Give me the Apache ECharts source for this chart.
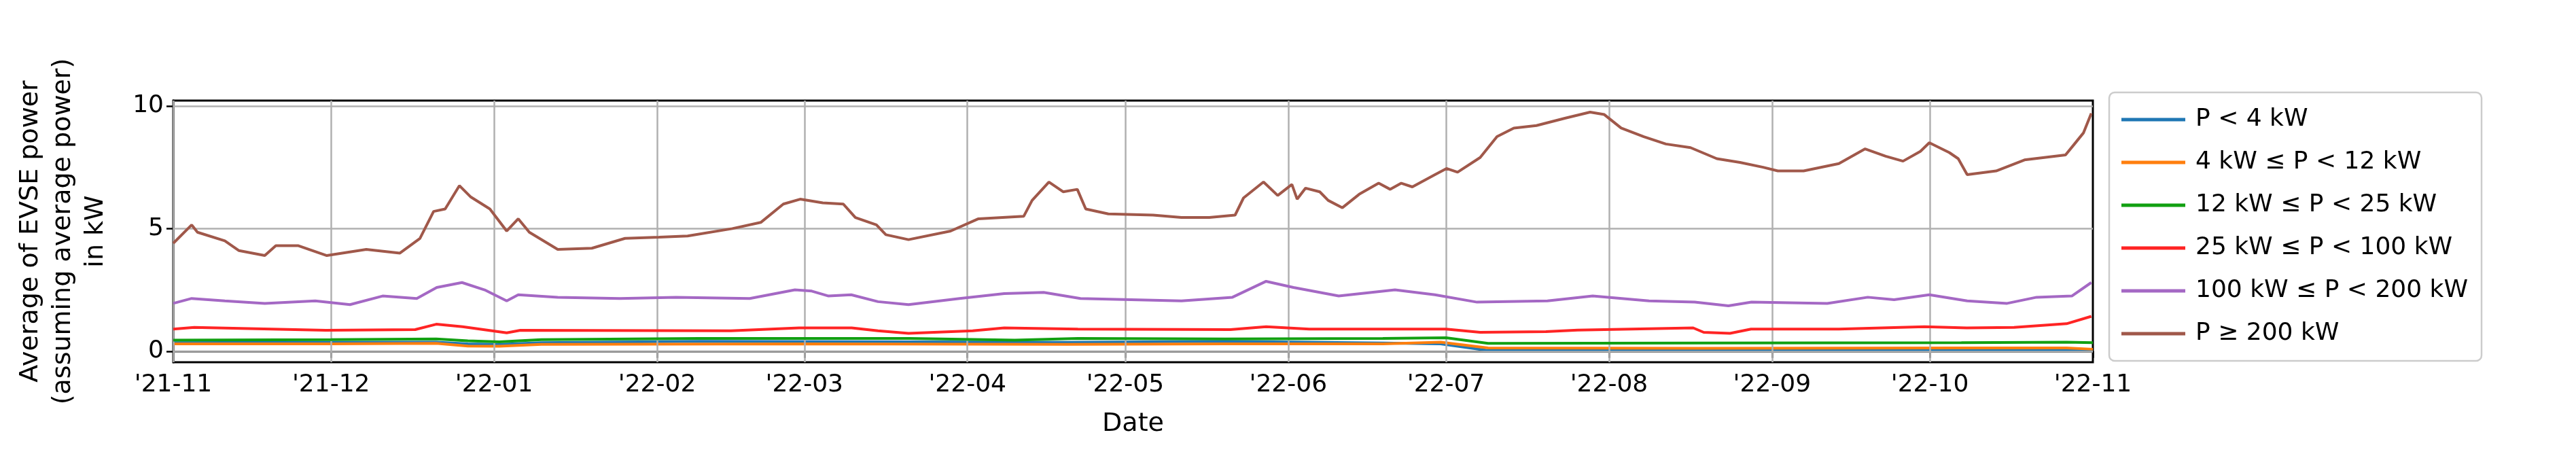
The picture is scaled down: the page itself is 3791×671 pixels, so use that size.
<!DOCTYPE html>
<html><head><meta charset="utf-8">
<script src="https://cdn.jsdelivr.net/npm/echarts@6/dist/echarts.min.js"></script>
<style>html,body{margin:0;background:#fff}#c{width:3791px;height:671px}</style>
</head><body><div id="c"></div>
<script>
const FONT = '"DejaVu Sans", sans-serif';
const START = Date.UTC(2021, 10, 1);
const DAY = 86400000;

const seriesNames = ['P < 4 kW', '4 kW ≤ P < 12 kW', '12 kW ≤ P < 25 kW', '25 kW ≤ P < 100 kW', '100 kW ≤ P < 200 kW', 'P ≥ 200 kW'];
const colors = ['#1f77b4', '#ff7f0e', '#12a012', '#ff2424', '#a468c4', '#a0584a'];

// day offsets from 2021-11-01 and values (kW)
const daysBlue = [0, 20, 50, 56, 62, 70, 100, 140, 170, 200, 230, 241, 250, 280, 320, 365];
const valsBlue = [0.35, 0.36, 0.37, 0.3, 0.28, 0.35, 0.4, 0.38, 0.36, 0.4, 0.33, 0.3, 0.03, 0.03, 0.04, 0.03];
const daysOrange = [0, 30, 50, 56, 62, 70, 120, 170, 200, 230, 241, 250, 290, 340, 360, 365];
const valsOrange = [0.3, 0.3, 0.32, 0.21, 0.2, 0.28, 0.3, 0.28, 0.3, 0.3, 0.37, 0.13, 0.12, 0.13, 0.13, 0.08];
const daysGreen = [0, 30, 50, 56, 62, 70, 100, 140, 160, 172, 200, 230, 242, 250, 290, 340, 360, 365];
const valsGreen = [0.45, 0.47, 0.5, 0.42, 0.38, 0.47, 0.52, 0.52, 0.45, 0.52, 0.5, 0.52, 0.55, 0.32, 0.33, 0.35, 0.37, 0.35];
const daysRed = [0, 4, 29, 46, 50, 55, 63.4, 66, 106, 119, 129, 134, 139.8, 152, 158, 172, 201, 207.8, 216, 242, 248.5, 261, 267, 289, 291, 296, 300, 316.7, 333, 341, 350, 360, 364.7];
const valsRed = [0.9, 0.97, 0.85, 0.88, 1.1, 1.0, 0.75, 0.85, 0.83, 0.95, 0.95, 0.83, 0.73, 0.83, 0.95, 0.9, 0.88, 1.0, 0.9, 0.9, 0.77, 0.8, 0.86, 0.95, 0.77, 0.73, 0.9, 0.9, 1.0, 0.95, 0.97, 1.12, 1.42];
const daysPurple = [0, 3.5, 9.8, 17.4, 27, 33.6, 39.8, 46.3, 50.1, 54.9, 59.2, 63.4, 65.6, 73.1, 84.9, 95.6, 109.6, 118.2, 121.4, 124.6, 128.9, 134, 139.8, 149.5, 158, 165.5, 172.5, 191.7, 201.4, 207.8, 213, 221.6, 232.3, 239.9, 247.9, 261.3, 269.9, 280.6, 289.3, 295.7, 300.1, 314.5, 322.2, 327.2, 333.9, 341.1, 348.7, 354.3, 361, 364.7];
const valsPurple = [1.95, 2.15, 2.05, 1.95, 2.05, 1.9, 2.25, 2.15, 2.6, 2.8, 2.5, 2.05, 2.3, 2.2, 2.15, 2.2, 2.15, 2.5, 2.45, 2.25, 2.3, 2.02, 1.9, 2.15, 2.35, 2.4, 2.15, 2.05, 2.2, 2.85, 2.6, 2.25, 2.5, 2.3, 2.0, 2.05, 2.25, 2.05, 2.0, 1.85, 2.0, 1.95, 2.2, 2.1, 2.3, 2.05, 1.95, 2.2, 2.25, 2.8];
const daysBrown = [0, 3.5, 4.6, 9.8, 12.5, 17.4, 19.5, 23.8, 29.2, 36.7, 43.1, 46.9, 49.5, 51.7, 54.4, 56.5, 60.2, 63.4, 65.6, 67.7, 73.1, 79.6, 85.9, 92.4, 97.8, 106.3, 111.7, 116, 119.2, 123.5, 127.4, 129.7, 133.7, 135.5, 139.8, 147.8, 153.1, 161.7, 163.3, 166.5, 169.2, 171.9, 173.5, 177.8, 186.3, 191.7, 197, 201.9, 203.5, 207.3, 210, 212.7, 213.7, 215.3, 218, 219.6, 222.3, 225.5, 229.2, 231.4, 233.5, 235.6, 239.9, 242.1, 244.2, 248.5, 251.7, 254.9, 259.2, 264.6, 269.4, 272.1, 275.3, 279.6, 283.8, 288.5, 293.5, 297.9, 302.3, 305.1, 310, 316.7, 321.7, 325.6, 328.9, 332.2, 333.9, 337.7, 339.4, 341.1, 346.6, 352, 359.8, 361.5, 363.2, 364.7];
const valsBrown = [4.4, 5.15, 4.85, 4.5, 4.1, 3.9, 4.3, 4.3, 3.9, 4.15, 4.0, 4.6, 5.7, 5.8, 6.75, 6.3, 5.8, 4.9, 5.4, 4.85, 4.15, 4.2, 4.6, 4.65, 4.7, 5.0, 5.25, 6.0, 6.2, 6.05, 6.0, 5.45, 5.15, 4.75, 4.55, 4.9, 5.4, 5.5, 6.15, 6.9, 6.5, 6.6, 5.8, 5.6, 5.55, 5.45, 5.45, 5.55, 6.25, 6.9, 6.35, 6.8, 6.2, 6.65, 6.5, 6.15, 5.85, 6.4, 6.85, 6.6, 6.85, 6.7, 7.2, 7.45, 7.3, 7.9, 8.75, 9.1, 9.2, 9.5, 9.75, 9.65, 9.1, 8.75, 8.45, 8.3, 7.85, 7.7, 7.5, 7.35, 7.35, 7.65, 8.25, 7.95, 7.75, 8.15, 8.5, 8.1, 7.85, 7.2, 7.35, 7.8, 8.0, 8.45, 8.9, 9.7];

const yTicks = [0, 5, 10];
const monthTicks = [];
for (let m = 0; m < 12; m++) monthTicks.push(Date.UTC(2021, 10 + m, 1));

const pairs = (d, v) => d.map((x, i) => [START + x * DAY, v[i]]);
const allDays = [daysBlue, daysOrange, daysGreen, daysRed, daysPurple, daysBrown];
const allVals = [valsBlue, valsOrange, valsGreen, valsRed, valsPurple, valsBrown];

const fmt = v => {
  const d = new Date(v);
  return "'" + String(d.getUTCFullYear()).slice(2) + '-' + String(d.getUTCMonth() + 1).padStart(2, '0');
};

const series = seriesNames.map((n, i) => ({
  name: n, type: 'line', data: pairs(allDays[i], allVals[i]),
  symbol: 'none', lineStyle: { width: 4, color: colors[i] }, itemStyle: { color: colors[i] },
  z: 3 + i, animation: false,
}));
// grid lines
series.push({
  type: 'line', data: [], silent: true, z: 1,
  markLine: {
    symbol: 'none', silent: true, animation: false, label: { show: false },
    lineStyle: { color: '#b0b0b0', width: 2.5, type: 'solid' },
    data: yTicks.map(y => ({ yAxis: y })).concat(monthTicks.map(x => ({ xAxis: x }))),
  },
});

const chart = echarts.init(document.getElementById('c'));
chart.setOption({
  backgroundColor: '#fff',
  animation: false,
  grid: { left: 255, right: 711, top: 148, bottom: 138, show: true, borderColor: '#000', borderWidth: 3 },
  xAxis: {
    type: 'time', min: START, max: START + 365 * DAY,
    minInterval: 28 * DAY, maxInterval: 31 * DAY, splitNumber: 12,
    name: 'Date', nameLocation: 'middle', nameGap: 72,
    nameTextStyle: { fontFamily: FONT, fontSize: 38, color: '#000' },
    axisLine: { lineStyle: { color: '#000', width: 3 } },
    axisTick: { length: 10, lineStyle: { color: '#000', width: 2.5 } },
    axisLabel: { formatter: fmt, showMaxLabel: false, fontFamily: FONT, fontSize: 36, color: '#000', margin: 16 },
    splitLine: { show: false },
  },
  yAxis: {
    type: 'value', min: -0.45, max: 10.22,
    name: 'Average of EVSE power\n(assuming average power)\nin kW', nameLocation: 'middle', nameGap: 90,
    nameTextStyle: { fontFamily: FONT, fontSize: 38, color: '#000', lineHeight: 48 },
    axisLine: { show: true, lineStyle: { color: '#000', width: 3 } },
    axisTick: { show: true, customValues: yTicks, length: 10, lineStyle: { color: '#000', width: 2.5 } },
    axisLabel: { customValues: yTicks, fontFamily: FONT, fontSize: 36, color: '#000', margin: 14 },
    splitLine: { show: false },
  },
  legend: {
    orient: 'vertical', left: 3104, top: 136, width: 661,
    padding: [22, 20, 22, 18], itemGap: 27,
    backgroundColor: '#fff', borderColor: '#cccccc', borderWidth: 2.5, borderRadius: 8,
    icon: 'rect', itemWidth: 94, itemHeight: 5,
    textStyle: { fontFamily: FONT, fontSize: 36, color: '#000', padding: [0, 0, 0, 10] },
    data: seriesNames,
  },
  series,
});
</script></body></html>
